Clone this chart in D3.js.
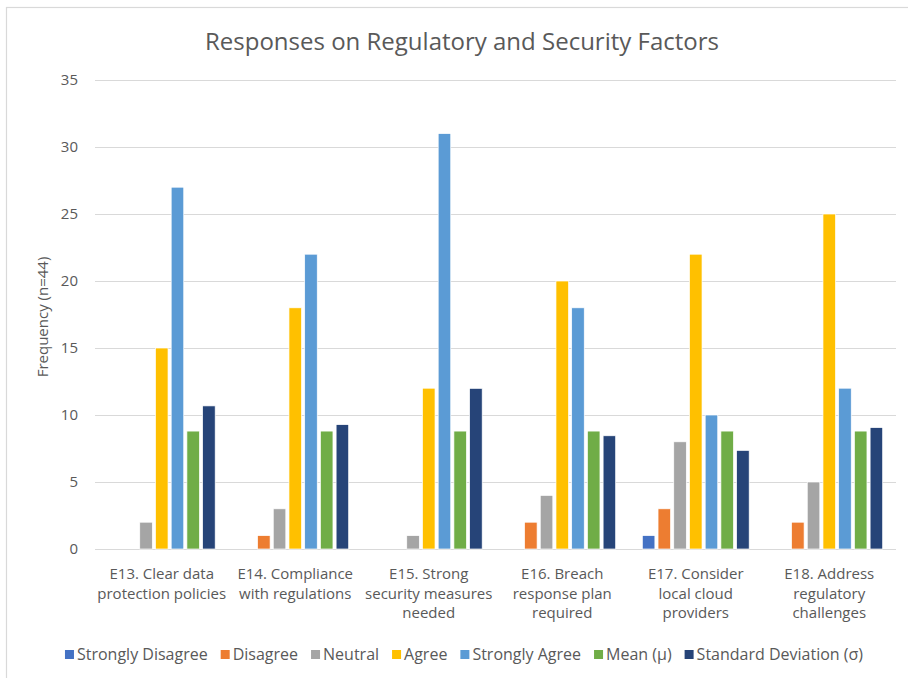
<!DOCTYPE html>
<html>
<head>
<meta charset="utf-8">
<script src="https://cdn.jsdelivr.net/npm/d3@7"></script>
<style>
  html, body { margin: 0; padding: 0; background: #fff; }
  svg { display: block; font-family: "Open Sans", "Noto Sans", "DejaVu Sans", sans-serif; }
</style>
</head>
<body>
<svg id="chart" width="908" height="678"></svg>
<script>
// Survey items (x-axis categories), each label split into lines
const categories = [
  ["E13. Clear data", "protection policies"],
  ["E14. Compliance", "with regulations"],
  ["E15. Strong", "security measures", "needed"],
  ["E16. Breach", "response plan", "required"],
  ["E17. Consider", "local cloud", "providers"],
  ["E18. Address", "regulatory", "challenges"]
];
const seriesNames = ["Strongly Disagree", "Disagree", "Neutral", "Agree", "Strongly Agree", "Mean (\u03bc)", "Standard Deviation (\u03c3)"];
const seriesColors = ["#4472C4", "#ED7D31", "#A5A5A5", "#FFC000", "#5B9BD5", "#70AD47", "#264478"];

// Response counts per item (n = 44)
const stronglyDisagree = [0, 0, 0, 0, 1, 0];
const disagree         = [0, 1, 0, 2, 3, 2];
const neutral          = [2, 3, 1, 4, 8, 5];
const agree            = [15, 18, 12, 20, 22, 25];
const stronglyAgree    = [27, 22, 31, 18, 10, 12];
const mean             = [8.8, 8.8, 8.8, 8.8, 8.8, 8.8];
const stdDev           = [10.68, 9.28, 11.99, 8.45, 7.36, 9.06];

const yTicks = [0, 5, 10, 15, 20, 25, 30, 35];

const seriesValues = [stronglyDisagree, disagree, neutral, agree, stronglyAgree, mean, stdDev];

const svg = d3.select("#chart");
const W = 908, H = 678;
const plot = { left: 95, right: 896, top: 80, bottom: 549 };

// Chart frame (top and left edges visible)
svg.append("rect").attr("x", 6.5).attr("y", 7.5).attr("width", W + 10).attr("height", H + 10)
  .attr("fill", "#fff").attr("stroke", "#d9d9d9").attr("stroke-width", 1.2);

svg.append("text")
  .attr("x", 462).attr("y", 50)
  .attr("text-anchor", "middle")
  .attr("font-size", 24)
  .attr("fill", "#595959")
  .text("Responses on Regulatory and Security Factors");

const y = d3.scaleLinear().domain([0, 35]).range([plot.bottom, plot.top]);
const x0 = d3.scaleBand().domain(d3.range(categories.length))
  .range([plot.left, plot.right]).paddingInner(0.176).paddingOuter(0.088);
const x1 = d3.scaleBand().domain(d3.range(seriesNames.length))
  .range([0, x0.bandwidth()]).paddingInner(0.2).paddingOuter(0.1);

// Horizontal gridlines and tick labels
const yAxis = d3.axisLeft(y).tickValues(yTicks).tickSize(-(plot.right - plot.left)).tickPadding(17);
const gy = svg.append("g").attr("transform", `translate(${plot.left},0)`).call(yAxis);
gy.select(".domain").remove();
gy.selectAll(".tick line").attr("stroke", "#d9d9d9").attr("stroke-width", 1.2);
gy.selectAll(".tick text").attr("fill", "#595959").attr("font-size", 15)
  .attr("font-family", "'Open Sans', sans-serif");

svg.append("text")
  .attr("transform", `translate(48,317) rotate(-90)`)
  .attr("text-anchor", "middle")
  .attr("font-size", 15)
  .attr("fill", "#595959")
  .text("Frequency (n=44)");

// Grouped bars
const groups = svg.append("g").selectAll("g")
  .data(categories.map((c, i) => i))
  .join("g")
  .attr("transform", i => `translate(${x0(i)},0)`);

groups.selectAll("rect")
  .data(i => seriesValues.map((vals, s) => ({ s, v: vals[i] })))
  .join("rect")
  .filter(d => d.v > 0)
  .attr("x", d => x1(d.s))
  .attr("y", d => y(d.v))
  .attr("width", x1.bandwidth())
  .attr("height", d => y(0) - y(d.v))
  .attr("fill", d => seriesColors[d.s])
  .attr("stroke", "#fff")
  .attr("stroke-width", 0.7);

// Category labels under the axis
const xLabels = svg.append("g");
categories.forEach((lines, i) => {
  const cx = x0(i) + x0.bandwidth() / 2;
  const t = xLabels.append("text")
    .attr("x", cx)
    .attr("y", 579)
    .attr("text-anchor", "middle")
    .attr("font-size", 15)
    .attr("fill", "#595959");
  lines.forEach((ln, k) => {
    t.append("tspan").attr("x", cx).attr("dy", k === 0 ? 0 : 19.5).text(ln);
  });
});

// Legend, centred under the plot
const legend = svg.append("g");
let lx = 0;
seriesNames.forEach((name, s) => {
  const g = legend.append("g").attr("transform", `translate(${lx},0)`);
  g.append("rect").attr("x", 0).attr("y", -5).attr("width", 9).attr("height", 9).attr("fill", seriesColors[s]);
  const t = g.append("text").attr("x", 12).attr("y", 5).attr("font-size", 16).attr("fill", "#595959").text(name);
  lx += 12 + t.node().getComputedTextLength() + (s < seriesNames.length - 1 ? 13 : 0);
});
legend.attr("transform", `translate(${464 - lx / 2},655)`);
</script>
</body>
</html>
